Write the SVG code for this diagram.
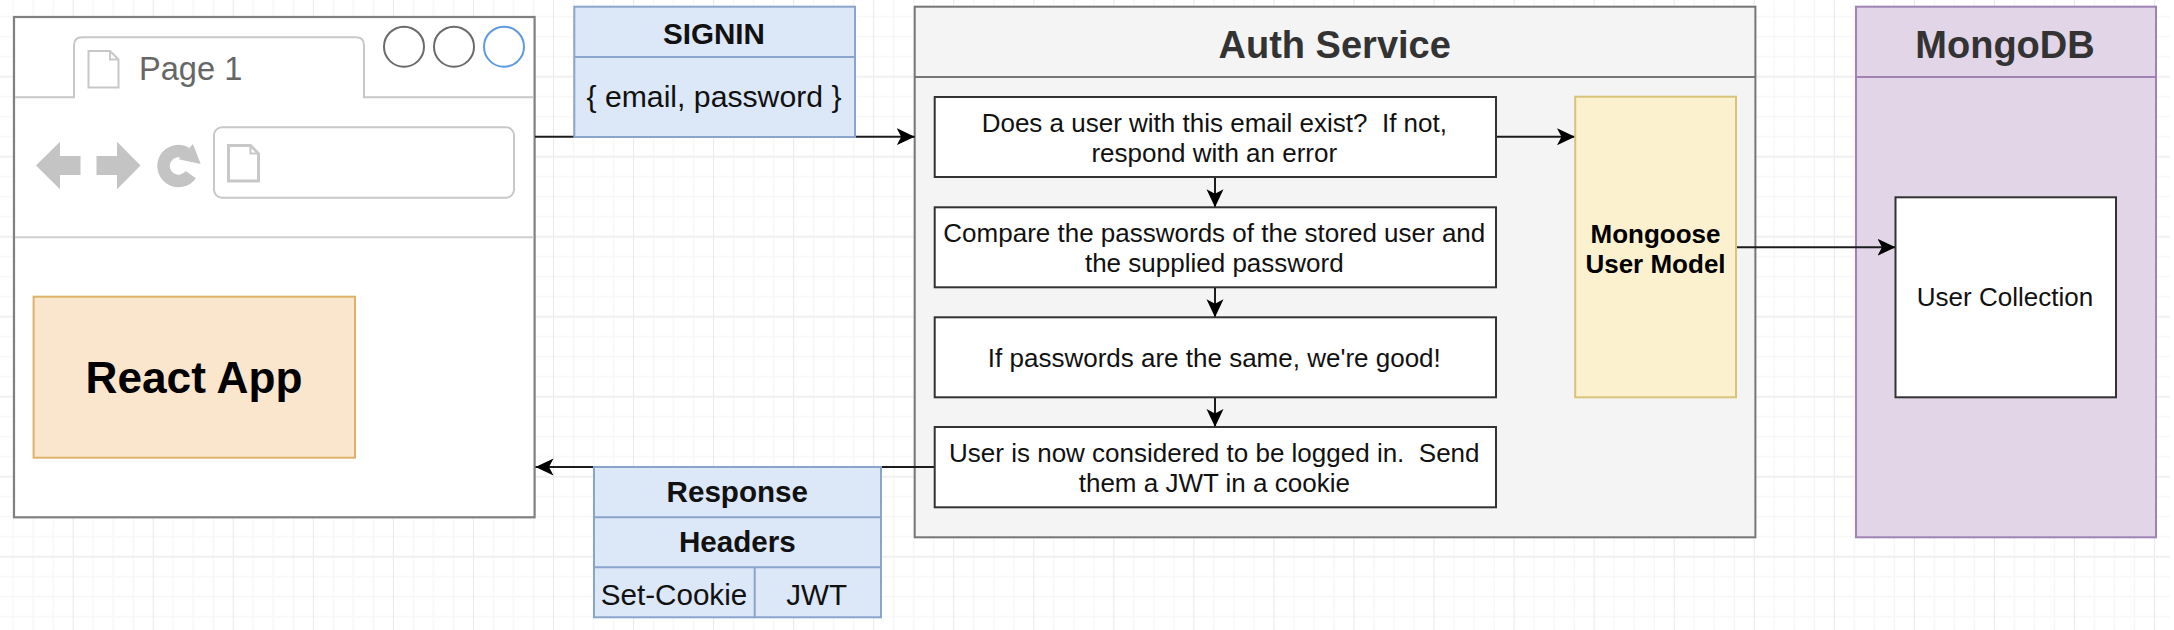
<svg xmlns="http://www.w3.org/2000/svg" width="2174" height="630" viewBox="0 0 2174 630">
  <style>
    text { font-family: "Liberation Sans", Arial, sans-serif; text-anchor: middle; white-space: pre; fill: #000; }
    .b { font-weight: bold; }
    .step { font-size: 26px; fill: #111; }
    .title { font-size: 38px; font-weight: bold; fill: #333; }
    .tbl { font-size: 29.6px; fill: #111; }
    .box { fill: #fff; stroke: #333; stroke-width: 2; }
    .blue { fill: #dce7f8; stroke: #8aa4cc; stroke-width: 2; }
    .bline { stroke: #8aa4cc; stroke-width: 2; fill: none; }
    .ui { fill: none; stroke: #c8c8c8; stroke-width: 2; }
    .glyph { fill: #c4c4c4; stroke: none; }
    .conn { fill: none; stroke: #1c1c1c; stroke-width: 2; marker-end: url(#arrow); }
  </style>
  <defs>
    <marker id="arrow" markerUnits="userSpaceOnUse" markerWidth="20" markerHeight="20" refX="18" refY="9" orient="auto">
      <path d="M0 0.5 L18 9 L0 17.5 L4.5 9 Z" fill="#000"/>
    </marker>
    <pattern id="grid" patternUnits="userSpaceOnUse" x="72.7" y="75.7" width="80.05" height="80">
      <rect x="20" y="0" width="1" height="80" fill="#f3f3f3"/>
      <rect x="40" y="0" width="1" height="80" fill="#f3f3f3"/>
      <rect x="60" y="0" width="1" height="80" fill="#f3f3f3"/>
      <rect x="0" y="20" width="80.05" height="1.5" fill="#f7f7f7"/>
      <rect x="0" y="40" width="80.05" height="1.5" fill="#f7f7f7"/>
      <rect x="0" y="60" width="80.05" height="1.5" fill="#f7f7f7"/>
      <rect x="0" y="0" width="1" height="80" fill="#e8e8e8"/>
      <rect x="0" y="0" width="80.05" height="2" fill="#f0f0f0"/>
    </pattern>
  </defs>

  <rect id="background" width="2174" height="630" fill="#fff"/>
  <rect id="grid-lines" width="2170" height="630" fill="url(#grid)"/>

  <g id="browser">
    <rect x="14" y="17" width="520.6" height="500.3" fill="#fff" stroke="#808080" stroke-width="2.2"/>
    <path class="ui" d="M15 97.3 H74 V45.3 Q74 37.3 82 37.3 H356 Q364 37.3 364 45.3 V97.3 H533.5"/>
    <path class="ui" d="M88.5 87.5 V51 H110 L118.5 59.5 V87.5 Z M110 51 V59.5 H118.5"/>
    <text x="139" y="80" style="text-anchor:start;font-size:32.6px;fill:#666">Page 1</text>
    <circle cx="404" cy="46.7" r="20" fill="none" stroke="#6a6a6a" stroke-width="2"/>
    <circle cx="454" cy="46.7" r="20" fill="none" stroke="#6a6a6a" stroke-width="2"/>
    <circle cx="504" cy="46.7" r="20" fill="none" stroke="#5e9ae0" stroke-width="2"/>
    <polygon class="glyph" points="36,165.5 60,141.7 60,156 80.5,156 80.5,175 60,175 60,189.3"/>
    <polygon class="glyph" points="140.5,165.5 117,141.7 117,156 96.5,156 96.5,175 117,175 117,189.3"/>
    <path d="M186 153 A15 15 0 1 0 190.8 174.6" fill="none" stroke="#c4c4c4" stroke-width="12.5"/>
    <polygon class="glyph" points="193,144 200.7,164 178.6,159.3"/>
    <rect class="ui" x="214" y="127.3" width="300" height="70.4" rx="8" ry="8"/>
    <path d="M228.5 181 V145.5 H250.5 L258.5 153.5 V181 Z" fill="none" stroke="#c8c8c8" stroke-width="3"/>
    <path class="ui" d="M250.5 145.5 V153.5 H258.5" stroke-width="1.5"/>
    <line x1="15" y1="237.3" x2="533.5" y2="237.3" stroke="#cfcfcf" stroke-width="2"/>
  </g>

  <g id="react-app">
    <rect x="33.6" y="296.7" width="321.4" height="161" fill="#fae6cd" stroke="#dcb269" stroke-width="2"/>
    <text class="b" x="194" y="392.7" style="font-size:44.2px">React App</text>
  </g>

  <g id="auth-service">
    <rect x="914.7" y="6.7" width="840.7" height="530.6" fill="#f4f4f4" stroke="#767676" stroke-width="2"/>
    <line x1="914.7" y1="77" x2="1755.4" y2="77" stroke="#767676" stroke-width="2"/>
    <text class="title" x="1334.7" y="58.3">Auth Service</text>
  </g>

  <g id="mongodb">
    <rect x="1856" y="6.7" width="300" height="530.6" fill="#e1d5e7" stroke="#a083b2" stroke-width="2"/>
    <line x1="1856" y1="77" x2="2156" y2="77" stroke="#a083b2" stroke-width="2"/>
    <text class="title" x="2005" y="58.3">MongoDB</text>
  </g>

  <g id="connectors">
    <path class="conn" d="M535 136.7 H914.7"/>
    <path class="conn" d="M934.7 467 H535.5"/>
    <path class="conn" d="M1215 177 V207.3"/>
    <path class="conn" d="M1215 287.3 V317.3"/>
    <path class="conn" d="M1215 397.3 V427"/>
    <path class="conn" d="M1496 136.7 H1575"/>
    <path class="conn" d="M1736 247.3 H1895.5"/>
  </g>

  <g id="signin">
    <rect class="blue" x="574.3" y="6.7" width="280.7" height="130.3"/>
    <line class="bline" x1="574.3" y1="57" x2="855" y2="57"/>
    <text class="tbl b" x="714" y="44.3">SIGNIN</text>
    <text class="tbl" x="714" y="107.3" style="font-size:30.2px">{ email, password }</text>
  </g>

  <g id="response">
    <rect class="blue" x="594" y="467" width="287" height="150.3"/>
    <line class="bline" x1="594" y1="517.3" x2="881" y2="517.3"/>
    <line class="bline" x1="594" y1="567.3" x2="881" y2="567.3"/>
    <line class="bline" x1="754.7" y1="567.3" x2="754.7" y2="617.3"/>
    <text class="tbl b" x="737.3" y="502.3">Response</text>
    <text class="tbl b" x="737.3" y="552.3">Headers</text>
    <text class="tbl" x="674" y="605">Set-Cookie</text>
    <text class="tbl" x="816.7" y="605">JWT</text>
  </g>

  <g id="step-1">
    <rect class="box" x="934.7" y="97" width="561.3" height="80"/>
    <text class="step" x="1214.3" y="132.3">Does a user with this email exist?  If not,</text>
    <text class="step" x="1214.3" y="162.3">respond with an error</text>
  </g>
  <g id="step-2">
    <rect class="box" x="934.7" y="207.3" width="561.3" height="80"/>
    <text class="step" x="1214.3" y="242.3">Compare the passwords of the stored user and</text>
    <text class="step" x="1214.3" y="272.3">the supplied password</text>
  </g>
  <g id="step-3">
    <rect class="box" x="934.7" y="317.3" width="561.3" height="80"/>
    <text class="step" x="1214.3" y="366.7">If passwords are the same, we're good!</text>
  </g>
  <g id="step-4">
    <rect class="box" x="934.7" y="427" width="561.3" height="80.3"/>
    <text class="step" x="1214.3" y="462.3">User is now considered to be logged in.  Send</text>
    <text class="step" x="1214.3" y="492.3">them a JWT in a cookie</text>
  </g>

  <g id="mongoose-user-model">
    <rect x="1575.2" y="96.7" width="160.8" height="300.6" fill="#fcf1cf" stroke="#d9c27a" stroke-width="2"/>
    <text class="b" x="1655.5" y="242.7" style="font-size:26px">Mongoose</text>
    <text class="b" x="1655.5" y="272.7" style="font-size:26px">User Model</text>
  </g>

  <g id="user-collection">
    <rect class="box" x="1895.5" y="197.3" width="220.5" height="200"/>
    <text class="step" x="2005" y="305.7">User Collection</text>
  </g>
</svg>
